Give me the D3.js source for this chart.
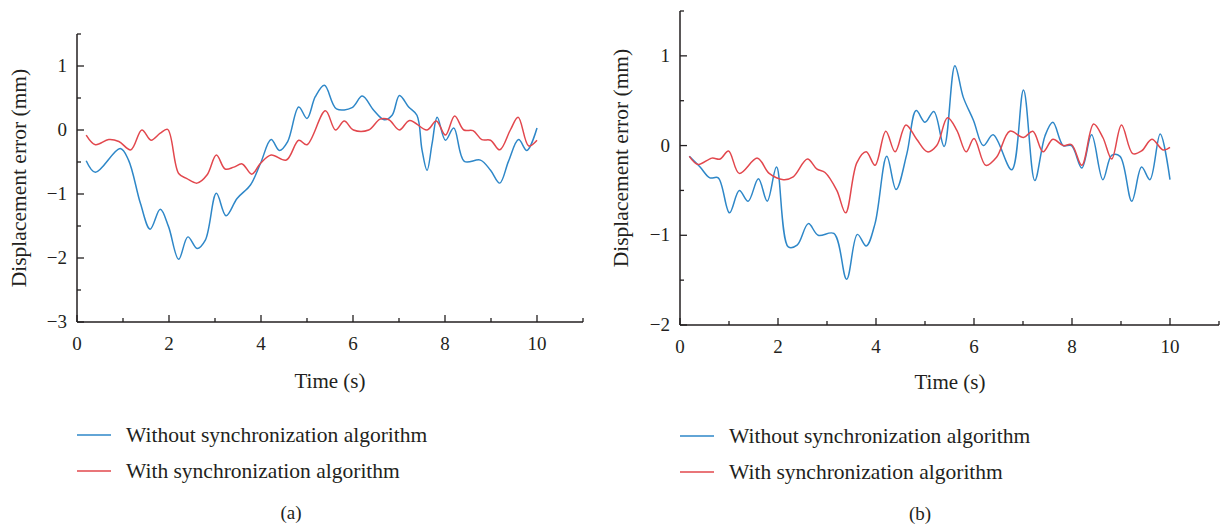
<!DOCTYPE html>
<html><head><meta charset="utf-8">
<script src="https://cdn.jsdelivr.net/npm/d3@7"></script>
<style>
html,body{margin:0;padding:0;background:#fff;}
svg text{font-family:"Liberation Serif","Times New Roman",serif;fill:#231f20;}
</style></head>
<body>
<svg id="chart" width="1220" height="525"></svg>
<script>
// ---- Data ----
const seriesNames = ["Without synchronization algorithm", "With synchronization algorithm"];
const xTickLabels = [0, 2, 4, 6, 8, 10];
const yTickLabelsA = [-3, -2, -1, 0, 1];
const yTickLabelsB = [-2, -1, 0, 1];

// Panel (a), without synchronization (blue)
const tA_without = [0.2,0.4,0.94,1.12,1.38,1.59,1.81,1.99,2.21,2.41,2.61,2.79,3.03,3.24,3.48,3.77,3.99,4.22,4.40,4.58,4.82,5.0,5.18,5.38,5.64,5.98,6.2,6.45,6.68,6.85,7.01,7.21,7.39,7.5,7.61,7.72,7.83,8.01,8.19,8.42,8.77,8.99,9.19,9.38,9.6,9.78,10.0];
const vA_without = [-0.48,-0.66,-0.29,-0.47,-1.15,-1.55,-1.24,-1.51,-2.02,-1.67,-1.85,-1.72,-0.99,-1.34,-1.07,-0.86,-0.52,-0.15,-0.32,-0.18,0.36,0.18,0.52,0.70,0.33,0.35,0.53,0.31,0.16,0.23,0.54,0.36,0.23,-0.31,-0.63,-0.21,0.20,-0.16,0.03,-0.49,-0.47,-0.63,-0.83,-0.49,-0.15,-0.32,0.03];
// Panel (a), with synchronization (red)
const tA_with = [0.2,0.4,0.69,0.91,1.17,1.41,1.61,1.81,1.97,2.21,2.39,2.61,2.83,3.03,3.22,3.41,3.59,3.80,3.99,4.22,4.55,4.82,5.0,5.4,5.62,5.81,6.01,6.34,6.59,6.78,7.01,7.23,7.61,7.81,8.01,8.21,8.41,8.61,8.80,8.99,9.19,9.42,9.59,9.82,10.0];
const vA_with = [-0.08,-0.23,-0.15,-0.18,-0.31,0.0,-0.16,-0.05,0.01,-0.68,-0.76,-0.83,-0.70,-0.39,-0.61,-0.58,-0.53,-0.69,-0.52,-0.39,-0.47,-0.16,-0.23,0.30,0.0,0.14,0.0,0.0,0.17,0.16,0.0,0.15,0.0,0.14,-0.08,0.22,0.0,-0.01,-0.15,-0.16,-0.31,0.0,0.20,-0.25,-0.16];

// Panel (b), without synchronization (blue)
const tB_without = [0.19,0.41,0.61,0.78,1.01,1.21,1.39,1.6,1.78,1.97,2.21,2.39,2.62,2.82,3.14,3.40,3.62,3.80,3.98,4.22,4.41,4.63,4.82,5.0,5.18,5.39,5.61,5.78,5.99,6.19,6.39,6.77,7.01,7.24,7.45,7.61,7.82,7.99,8.2,8.4,8.63,8.81,8.98,9.22,9.42,9.59,9.80,10.0];
const vB_without = [-0.12,-0.24,-0.36,-0.36,-0.75,-0.50,-0.62,-0.37,-0.62,-0.24,-1.13,-1.11,-0.87,-1.0,-0.98,-1.49,-0.99,-1.12,-0.87,-0.12,-0.49,-0.09,0.39,0.26,0.38,-0.01,0.89,0.54,0.28,0.0,0.12,-0.27,0.62,-0.39,0.11,0.26,0.0,0.0,-0.25,0.12,-0.38,-0.11,-0.12,-0.62,-0.24,-0.38,0.13,-0.38];
// Panel (b), with synchronization (red)
const tB_with = [0.19,0.37,0.65,0.82,0.99,1.21,1.58,1.82,2.11,2.31,2.60,2.79,2.96,3.2,3.38,3.61,3.80,3.98,4.2,4.39,4.61,4.83,5.05,5.24,5.46,5.65,5.84,6.0,6.24,6.46,6.73,7.01,7.2,7.41,7.61,7.82,7.99,8.2,8.44,8.63,8.81,9.01,9.24,9.42,9.63,9.86,10.0];
const vB_with = [-0.12,-0.21,-0.14,-0.15,-0.06,-0.31,-0.14,-0.31,-0.38,-0.35,-0.15,-0.26,-0.30,-0.50,-0.75,-0.19,-0.07,-0.22,0.16,-0.07,0.23,0.07,-0.07,0.0,0.31,0.17,-0.07,0.08,-0.22,-0.13,0.16,0.09,0.16,-0.07,0.07,0.0,0.01,-0.22,0.24,0.09,-0.15,0.23,-0.09,-0.06,0.07,-0.05,-0.02];

const colors = ["#2e87c8", "#e2474d"];

const svg = d3.select("#chart");

function zip(t, v){ return t.map((d,i)=>({x:d, y:v[i]})); }

function drawPanel(cfg){
  const g = svg.append("g");
  const x = d3.scaleLinear().domain([0, 11]).range([cfg.left, cfg.right]);
  const y = d3.scaleLinear().domain(cfg.yDomain).range([cfg.bottom, cfg.top]);
  const axisColor = "#231f20";

  g.append("line").attr("x1", x(0)).attr("x2", x(11)).attr("y1", y(cfg.yDomain[0])).attr("y2", y(cfg.yDomain[0]))
    .attr("stroke", axisColor).attr("stroke-width", 1.5);
  g.append("line").attr("x1", x(0)).attr("x2", x(0)).attr("y1", y(cfg.yDomain[0])).attr("y2", y(cfg.yDomain[1]))
    .attr("stroke", axisColor).attr("stroke-width", 1.5);

  const xMinor = d3.range(1, 12, 2);
  g.selectAll(".xmaj").data(xTickLabels).enter().append("line")
    .attr("x1", d=>x(d)).attr("x2", d=>x(d)).attr("y1", cfg.bottom).attr("y2", cfg.bottom-7)
    .attr("stroke", axisColor).attr("stroke-width", 1.3);
  g.selectAll(".xmin").data(xMinor).enter().append("line")
    .attr("x1", d=>x(d)).attr("x2", d=>x(d)).attr("y1", cfg.bottom).attr("y2", cfg.bottom-4)
    .attr("stroke", axisColor).attr("stroke-width", 1.3);
  g.selectAll(".xlab").data(xTickLabels).enter().append("text")
    .attr("x", d=>x(d)).attr("y", cfg.bottom+28).attr("text-anchor","middle")
    .attr("font-size", 19).text(d=>d);

  const yMinor = d3.range(cfg.yDomain[0]+0.5, cfg.yDomain[1]+0.01, 1);
  g.selectAll(".ymaj").data(cfg.yTicks).enter().append("line")
    .attr("x1", cfg.left).attr("x2", cfg.left+7).attr("y1", d=>y(d)).attr("y2", d=>y(d))
    .attr("stroke", axisColor).attr("stroke-width", 1.3);
  g.selectAll(".ymin").data(yMinor).enter().append("line")
    .attr("x1", cfg.left).attr("x2", cfg.left+4).attr("y1", d=>y(d)).attr("y2", d=>y(d))
    .attr("stroke", axisColor).attr("stroke-width", 1.3);
  const fmt = d3.format("d");
  g.selectAll(".ylab").data(cfg.yTicks).enter().append("text")
    .attr("x", cfg.left-10).attr("y", d=>y(d)+6).attr("text-anchor","end")
    .attr("font-size", 19).text(d=>fmt(d));

  g.append("text").attr("x", cfg.xTitle[0]).attr("y", cfg.xTitle[1]).attr("text-anchor","middle")
    .attr("font-size", 21).text("Time (s)");
  g.append("text").attr("transform", `translate(${cfg.yTitle[0]},${cfg.yTitle[1]}) rotate(-90)`)
    .attr("text-anchor","middle").attr("font-size", 21.5).text("Displacement error (mm)");

  const line = d3.line().x(d=>x(d.x)).y(d=>y(d.y)).curve(d3.curveCatmullRom.alpha(0.5));
  cfg.series.forEach((s,i)=>{
    g.append("path").datum(s).attr("d", line).attr("fill","none")
      .attr("stroke", colors[i]).attr("stroke-width", 1.5);
  });

  seriesNames.forEach((name,i)=>{
    const ly = cfg.legend[1] + i*36;
    g.append("line").attr("x1", cfg.legend[0]).attr("x2", cfg.legend[0]+34)
      .attr("y1", ly).attr("y2", ly).attr("stroke", colors[i]).attr("stroke-width", 1.5);
    g.append("text").attr("x", cfg.legend[0]+49).attr("y", ly+7)
      .attr("font-size", 21.5).text(name);
  });
  g.append("text").attr("x", cfg.tag[0]).attr("y", cfg.tag[1]).attr("text-anchor","middle")
    .attr("font-size", 19).text(cfg.tagText);
}

drawPanel({
  left: 77, right: 583, top: 34, bottom: 322, yDomain: [-3, 1.5], yTicks: yTickLabelsA,
  series: [zip(tA_without, vA_without), zip(tA_with, vA_with)],
  xTitle: [330, 388], yTitle: [26, 178], legend: [77, 435], tag: [291, 519], tagText: "(a)"
});
drawPanel({
  left: 680, right: 1219, top: 11, bottom: 325, yDomain: [-2, 1.5], yTicks: yTickLabelsB,
  series: [zip(tB_without, vB_without), zip(tB_with, vB_with)],
  xTitle: [950, 389], yTitle: [628, 158], legend: [680, 436], tag: [920, 520], tagText: "(b)"
});
</script>
</body></html>
